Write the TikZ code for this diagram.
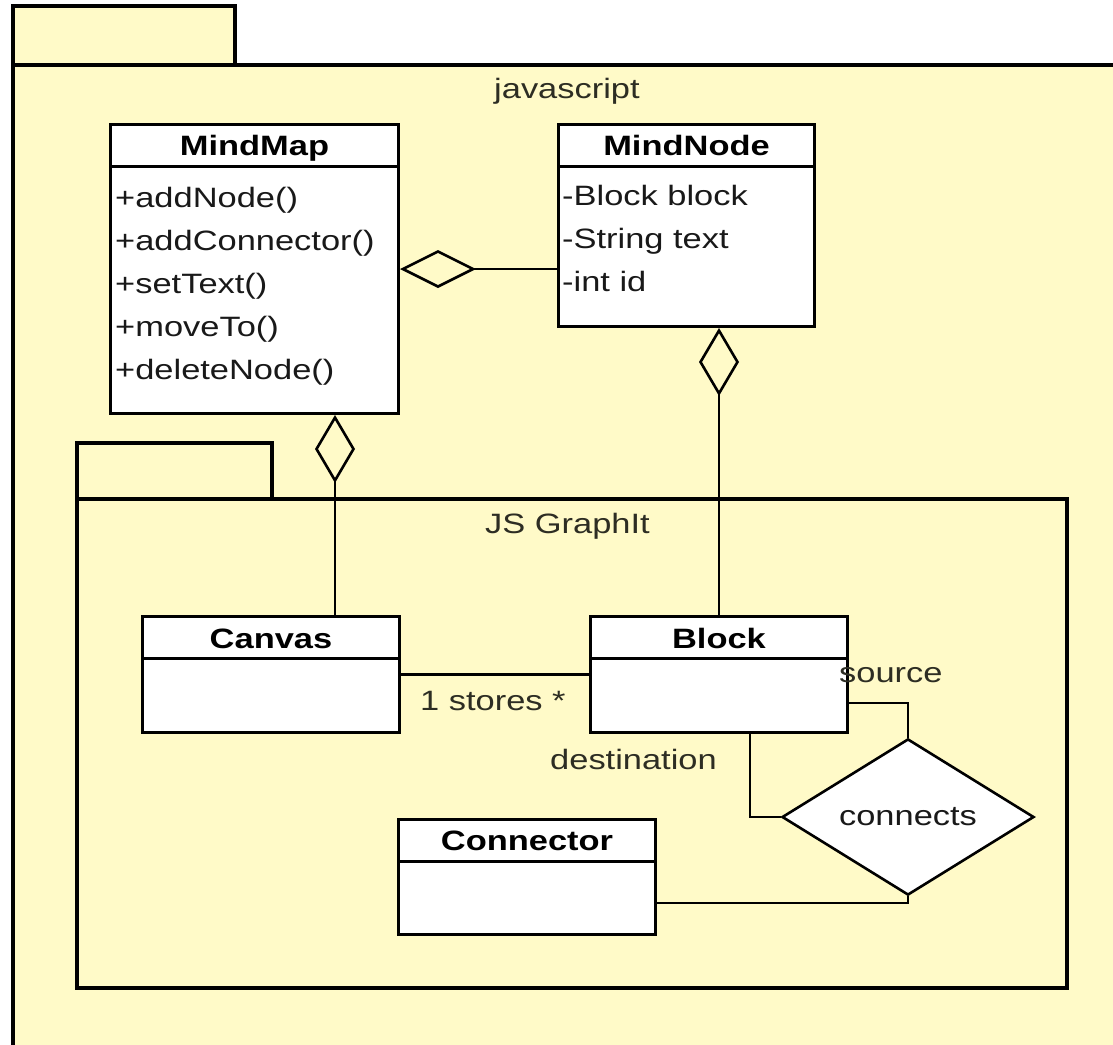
\documentclass[tikz,border=0pt]{standalone}
\usepackage{fontspec}
\setmainfont{Liberation Sans}[FakeStretch=1.23]
\usetikzlibrary{arrows.meta,shapes.geometric}
\definecolor{pkgfill}{RGB}{255,250,200}
\definecolor{txt}{RGB}{25,25,25}
\definecolor{tagtxt}{RGB}{45,45,35}
\begin{document}
\begin{tikzpicture}[x=1pt,y=-1pt,
  every node/.style={font=\fontsize{28}{34}\selectfont, text=txt, inner sep=0pt},
  pkg/.style={draw=black, fill=pkgfill, line width=3.1pt},
  classbox/.style={draw=black, fill=white, line width=3pt, anchor=north west, inner sep=0pt},
  divider/.style={line width=3pt},
  classname/.style={font=\fontsize{28}{34}\selectfont\bfseries, text=black, anchor=base},
  member/.style={anchor=base west},
  tag/.style={anchor=base west, text=tagtxt},
  assoc/.style={line width=2.6pt},
  aggh/.style={assoc, -{Diamond[open,length=76pt,width=38pt]}},
  aggv/.style={assoc, -{Diamond[open,length=68pt,width=40pt]}},
]
\useasboundingbox (0,0) rectangle (1113,1044);
\fill[white] (0,0) rectangle (1113,1044);

% package "javascript"
\begin{scope}
  \clip (0,0) rectangle (1113,1044);
  \draw[pkg] (13,6) rectangle (235,65);
  \draw[pkg] (13,65) rectangle (1130,1060);
\end{scope}
\node[tag] (jslabel) at (494,98) {javascript};

% classes of the outer package
\node[classbox, minimum width=288pt, minimum height=289pt] (mindmap) at (109,123) {};
\draw[divider] (mindmap.west |- 0,166) -- (mindmap.east |- 0,166);
\node[classname] (mindmapname) at (mindmap.north |- 0,155) {MindMap};
\node[member] (mm1) at (115,207) {+addNode()};
\node[member] (mm2) at (115,250) {+addConnector()};
\node[member] (mm3) at (115,293) {+setText()};
\node[member] (mm4) at (115,336) {+moveTo()};
\node[member] (mm5) at (115,379) {+deleteNode()};

\node[classbox, minimum width=256pt, minimum height=202pt] (mindnode) at (557,123) {};
\draw[divider] (mindnode.west |- 0,166) -- (mindnode.east |- 0,166);
\node[classname] (mindnodename) at (mindnode.north |- 0,155) {MindNode};
\node[member] (mn1) at (562,205) {-Block block};
\node[member] (mn2) at (562,248) {-String text};
\node[member] (mn3) at (562,291) {-int id};

% package "JS GraphIt"
\draw[pkg] (77,443) rectangle (272,499);
\draw[pkg] (77,499) rectangle (1067,988);
\node[tag] (graphitlabel) at (485,533) {JS GraphIt};

\node[classbox, minimum width=257pt, minimum height=116pt] (canvas) at (141,615) {};
\draw[divider] (canvas.west |- 0,658) -- (canvas.east |- 0,658);
\node[classname] (canvasname) at (canvas.north |- 0,648) {Canvas};

\node[classbox, minimum width=257pt, minimum height=116pt] (block) at (589,615) {};
\draw[divider] (block.west |- 0,658) -- (block.east |- 0,658);
\node[classname] (blockname) at (block.north |- 0,648) {Block};

\node[classbox, minimum width=257pt, minimum height=115pt] (connector) at (397,818) {};
\draw[divider] (connector.west |- 0,861) -- (connector.east |- 0,861);
\node[classname] (connectorname) at (connector.north |- 0,850) {Connector};

\node[draw=black, fill=white, diamond, line width=2.6pt, minimum width=252pt,
      minimum height=110pt, inner sep=0pt] (connects) at (908,817) {connects};

% relations
\draw[aggh] (mindmap.east -| mindnode.west) -- (mindmap.east);
\draw[aggv] (335,0 |- canvas.north) -- (335,0 |- mindmap.south);
\draw[aggv] (block.north) -- (block.north |- mindnode.south);
\draw[assoc] (canvas.east) -- (canvas.east -| block.west);
\node[tag] (stores) at (420,710) {1 stores *};
\draw[assoc] (block.east |- 0,703) -| (connects.north);
\node[tag] (source) at (839,682) {source};
\draw[assoc] (750,0 |- block.south) |- (connects.west);
\node[tag] (destination) at (550,769) {destination};
\draw[assoc] (connects.south) |- (connector.east |- 0,903);
\end{tikzpicture}
\end{document}
